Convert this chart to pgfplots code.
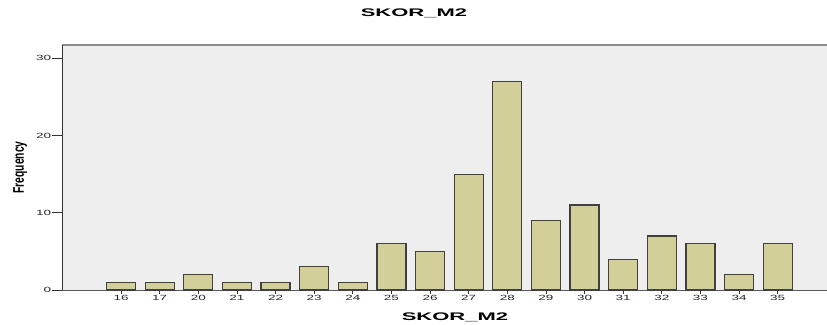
\documentclass[border=0pt]{standalone}
\usepackage{fontspec}
\setmainfont{Liberation Sans}
\usepackage{pgfplots}
\pgfplotsset{compat=1.18}
\usepackage{pgfplotstable}
\definecolor{barfill}{HTML}{D3CF98}
\definecolor{plotbg}{HTML}{EEEEEE}
\newcommand{\sx}[1]{\scalebox{1.8}[1]{\fontsize{7.5}{8}\selectfont #1}}

\pgfplotstableread{
pos freq
0 1
1 1
2 2
3 1
4 1
5 3
6 1
7 6
8 5
9 15
10 27
11 9
12 11
13 4
14 7
15 6
16 2
17 6
}\freqtable

\begin{document}
\begin{tikzpicture}
\begin{axis}[
  at={(62.3pt,34pt)}, anchor=south west,
  scale only axis, width=785.7pt, height=245pt,
  xmin=-1.52, xmax=18.82, ymin=0, ymax=31.72,
  axis background/.style={fill=plotbg},
  axis x line*=bottom, axis y line*=left,
  x axis line style={draw=black!65, line width=0.8pt, -},
  y axis line style={draw=black!80, line width=1.2pt, -},
  ybar, bar width=29pt,
  xtick={0,...,17},
  xticklabels={\sx{16},\sx{17},\sx{20},\sx{21},\sx{22},\sx{23},\sx{24},\sx{25},\sx{26},\sx{27},\sx{28},\sx{29},\sx{30},\sx{31},\sx{32},\sx{33},\sx{34},\sx{35}},
  ytick=\empty,
  tick align=outside, major tick length=4pt,
  tick style={black!80, line width=0.8pt},
  xticklabel style={inner sep=1pt, anchor=north, text=black!85},
  title={\scalebox{2}[1]{\fontsize{11}{12}\selectfont\bfseries SKOR\_M2}},
  title style={at={(axis description cs:0.4476,1.09)}, anchor=base, inner sep=0pt},
  xlabel={\scalebox{2}[1]{\fontsize{11}{12}\selectfont\bfseries SKOR\_M2}},
  xlabel style={at={(axis description cs:0.4998,-0.1265)}, anchor=base, inner sep=0pt},
  ylabel={\scalebox{1}[1.5]{\fontsize{10.3}{12}\selectfont\bfseries Frequency}},
  ylabel style={at={(axis description cs:-0.04875,0.5)}, anchor=base, inner sep=0pt},
  clip=false,
]
\addplot[fill=barfill, draw=black!75, line width=1.2pt] table[x=pos,y=freq]{\freqtable};
\draw[black!45, line width=1.2pt] (rel axis cs:0,1) -- (rel axis cs:1,1);
\end{axis}
\begin{axis}[
  at={(62.3pt,34pt)}, anchor=south west,
  scale only axis, width=785.7pt, height=245pt,
  xmin=-1.52, xmax=18.82, ymin=0, ymax=31.72,
  hide x axis,
  axis y line*=left,
  y axis line style={draw=black!80, line width=1.2pt, -},
  ytick={0,10,20,30},
  tick align=outside, major tick length=10pt,
  tick style={black!80, line width=0.8pt},
  /pgf/number format/assume math mode=true,
  yticklabel={\sx{\pgfmathprintnumber{\tick}}},
  yticklabel style={inner sep=1pt, text=black!85},
]
\end{axis}
\pgfresetboundingbox
\path[use as bounding box] (0,0) rectangle (827pt,324pt);
\end{tikzpicture}
\end{document}
